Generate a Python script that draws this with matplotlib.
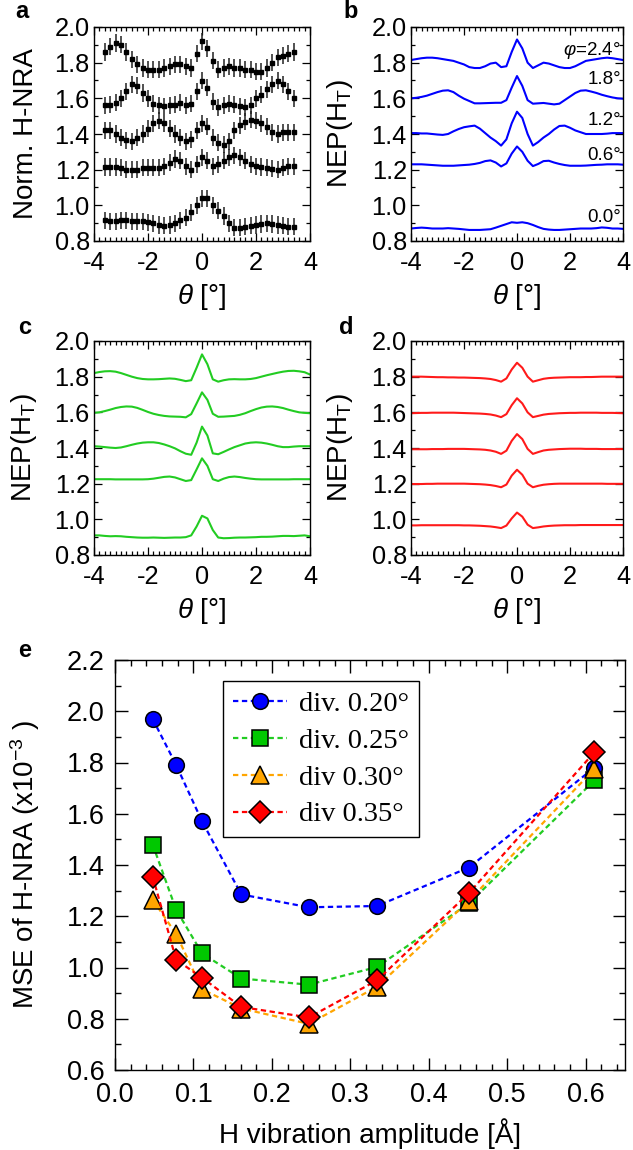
import numpy as np
import matplotlib
matplotlib.use("Agg")
import matplotlib.pyplot as plt
from matplotlib.ticker import MultipleLocator, FormatStrFormatter

plt.rcParams['font.family'] = ['Liberation Sans', 'DejaVu Sans']
plt.rcParams['mathtext.fontset'] = 'custom'
plt.rcParams['mathtext.rm'] = 'Liberation Sans'
plt.rcParams['mathtext.it'] = 'Liberation Sans:italic'
plt.rcParams['axes.unicode_minus'] = False

# ---------------- data ----------------
# panel a: measured (x = -3.6 ... 3.4 step 0.2)
theta_exp = np.round(np.arange(-3.6, 3.41, 0.2), 2)
a_phi24 = [1.86, 1.89, 1.91, 1.90, 1.86, 1.82, 1.79, 1.77, 1.76, 1.76,
           1.76, 1.77, 1.78, 1.79, 1.79, 1.78, 1.77, 1.85, 1.92, 1.88,
           1.81, 1.76, 1.77, 1.78, 1.77, 1.77, 1.76, 1.76, 1.75, 1.75,
           1.77, 1.80, 1.83, 1.84, 1.85, 1.86]
a_phi18 = [1.56, 1.565, 1.575, 1.60, 1.64, 1.68, 1.67, 1.63, 1.60, 1.57,
           1.56, 1.555, 1.56, 1.565, 1.575, 1.56, 1.57, 1.64, 1.70, 1.66,
           1.58, 1.55, 1.56, 1.57, 1.565, 1.555, 1.55, 1.56, 1.60, 1.62,
           1.65, 1.68, 1.70, 1.68, 1.64, 1.60]
a_phi12 = [1.42, 1.42, 1.40, 1.38, 1.365, 1.36, 1.38, 1.40, 1.43, 1.46,
           1.475, 1.46, 1.43, 1.40, 1.38, 1.36, 1.37, 1.42, 1.46, 1.44,
           1.38, 1.35, 1.34, 1.36, 1.42, 1.45, 1.47, 1.48, 1.475, 1.46,
           1.44, 1.41, 1.40, 1.41, 1.41, 1.41]
a_phi06 = [1.215, 1.215, 1.215, 1.21, 1.20, 1.20, 1.20, 1.21, 1.21, 1.21,
           1.21, 1.22, 1.24, 1.26, 1.25, 1.22, 1.20, 1.23, 1.27, 1.25,
           1.22, 1.23, 1.25, 1.27, 1.28, 1.27, 1.25, 1.23, 1.22, 1.215,
           1.21, 1.205, 1.20, 1.21, 1.22, 1.22]
a_phi00 = [0.915, 0.91, 0.91, 0.915, 0.915, 0.91, 0.91, 0.91, 0.905, 0.90,
           0.89, 0.885, 0.89, 0.90, 0.915, 0.93, 0.96, 1.00, 1.04, 1.04,
           1.00, 0.97, 0.94, 0.90, 0.875, 0.875, 0.88, 0.885, 0.89, 0.895,
           0.90, 0.895, 0.89, 0.885, 0.88, 0.88]
a_err = 0.048

# panels b, c, d: simulations (x = -4 ... 4 step 0.2)
theta_sim = np.round(np.arange(-4.0, 4.01, 0.2), 2)
b_phi24 = [1.815, 1.82, 1.825, 1.828, 1.828, 1.825, 1.82, 1.815, 1.81, 1.80,
           1.79, 1.775, 1.77, 1.77, 1.78, 1.795, 1.80, 1.775, 1.78, 1.86,
           1.93, 1.88, 1.80, 1.77, 1.785, 1.80, 1.795, 1.785, 1.775, 1.77,
           1.77, 1.78, 1.795, 1.81, 1.815, 1.82, 1.825, 1.828, 1.825, 1.82, 1.815]
b_phi18 = [1.60, 1.603, 1.608, 1.615, 1.625, 1.635, 1.643, 1.645, 1.635, 1.615,
           1.598, 1.585, 1.572, 1.572, 1.573, 1.574, 1.575, 1.575, 1.59, 1.66,
           1.725, 1.67, 1.59, 1.57, 1.572, 1.574, 1.57, 1.566, 1.57, 1.59,
           1.61, 1.63, 1.643, 1.645, 1.638, 1.63, 1.62, 1.612, 1.605, 1.60, 1.598]
b_phi12 = [1.405, 1.405, 1.403, 1.403, 1.40, 1.397, 1.395, 1.40, 1.415, 1.428,
           1.438, 1.443, 1.447, 1.43, 1.405, 1.38, 1.36, 1.335, 1.37, 1.46,
           1.525, 1.49, 1.40, 1.335, 1.355, 1.38, 1.40, 1.425, 1.445, 1.447,
           1.435, 1.42, 1.41, 1.40, 1.40, 1.40, 1.40, 1.402, 1.405, 1.405, 1.405]
b_phi06 = [1.23, 1.23, 1.23, 1.228, 1.226, 1.224, 1.222, 1.222, 1.222, 1.224,
           1.226, 1.228, 1.232, 1.238, 1.248, 1.252, 1.24, 1.218, 1.235, 1.29,
           1.33, 1.30, 1.25, 1.22, 1.232, 1.248, 1.25, 1.24, 1.232, 1.226,
           1.222, 1.222, 1.222, 1.223, 1.225, 1.227, 1.228, 1.23, 1.23, 1.23, 1.228]
b_phi00 = [0.87, 0.873, 0.875, 0.873, 0.87, 0.87, 0.87, 0.872, 0.87, 0.868,
           0.865, 0.862, 0.862, 0.862, 0.864, 0.866, 0.875, 0.885, 0.895, 0.905,
           0.902, 0.905, 0.90, 0.89, 0.878, 0.868, 0.864, 0.862, 0.862, 0.864,
           0.866, 0.868, 0.87, 0.87, 0.87, 0.872, 0.876, 0.874, 0.87, 0.87, 0.868]

c_phi24 = [1.82, 1.826, 1.83, 1.831, 1.828, 1.82, 1.81, 1.80, 1.792, 1.787,
           1.785, 1.785, 1.786, 1.788, 1.79, 1.788, 1.782, 1.775, 1.78, 1.85,
           1.925, 1.87, 1.785, 1.772, 1.78, 1.785, 1.786, 1.785, 1.785, 1.787,
           1.792, 1.80, 1.808, 1.815, 1.822, 1.828, 1.832, 1.833, 1.83, 1.825, 1.812]
c_phi18 = [1.597, 1.60, 1.607, 1.615, 1.624, 1.63, 1.633, 1.632, 1.625, 1.614,
           1.602, 1.592, 1.585, 1.58, 1.577, 1.576, 1.575, 1.572, 1.59, 1.65,
           1.712, 1.67, 1.592, 1.575, 1.576, 1.578, 1.58, 1.586, 1.595, 1.607,
           1.618, 1.627, 1.632, 1.633, 1.63, 1.624, 1.615, 1.607, 1.60, 1.597, 1.595]
c_phi12 = [1.41, 1.408, 1.405, 1.402, 1.40, 1.403, 1.41, 1.418, 1.425, 1.43,
           1.432, 1.432, 1.428, 1.42, 1.41, 1.398, 1.382, 1.368, 1.362, 1.43,
           1.52, 1.47, 1.37, 1.365, 1.378, 1.392, 1.405, 1.415, 1.425, 1.43,
           1.432, 1.43, 1.425, 1.418, 1.41, 1.405, 1.405, 1.408, 1.41, 1.41, 1.41]
c_phi06 = [1.225, 1.225, 1.225, 1.225, 1.224, 1.224, 1.224, 1.224, 1.224, 1.224,
           1.225, 1.228, 1.233, 1.238, 1.24, 1.235, 1.225, 1.215, 1.22, 1.28,
           1.342, 1.30, 1.225, 1.215, 1.228, 1.237, 1.24, 1.237, 1.232, 1.228,
           1.225, 1.224, 1.224, 1.224, 1.224, 1.224, 1.224, 1.225, 1.225, 1.225, 1.225]
c_phi00 = [0.91, 0.91, 0.907, 0.905, 0.906, 0.905, 0.902, 0.90, 0.898, 0.897,
           0.897, 0.898, 0.897, 0.896, 0.897, 0.898, 0.898, 0.90, 0.91, 0.96,
           1.02, 1.005, 0.94, 0.898, 0.894, 0.895, 0.897, 0.898, 0.898, 0.899,
           0.90, 0.902, 0.902, 0.903, 0.905, 0.907, 0.907, 0.906, 0.908, 0.91, 0.905]

d_phi24 = [1.80, 1.80, 1.80, 1.799, 1.798, 1.797, 1.797, 1.796, 1.796, 1.795,
           1.795, 1.794, 1.793, 1.792, 1.79, 1.787, 1.781, 1.772, 1.79, 1.84,
           1.878, 1.85, 1.80, 1.772, 1.78, 1.788, 1.792, 1.794, 1.795, 1.796,
           1.797, 1.797, 1.797, 1.798, 1.798, 1.799, 1.80, 1.80, 1.80, 1.80, 1.80]
d_phi18 = [1.595, 1.596, 1.597, 1.597, 1.598, 1.598, 1.598, 1.598, 1.598, 1.597,
           1.596, 1.595, 1.594, 1.593, 1.591, 1.588, 1.582, 1.573, 1.59, 1.64,
           1.679, 1.65, 1.60, 1.573, 1.58, 1.587, 1.591, 1.593, 1.595, 1.596,
           1.597, 1.597, 1.598, 1.598, 1.598, 1.598, 1.597, 1.597, 1.597, 1.596, 1.595]
d_phi12 = [1.393, 1.393, 1.393, 1.393, 1.394, 1.394, 1.394, 1.395, 1.395, 1.395,
           1.395, 1.394, 1.393, 1.392, 1.39, 1.386, 1.379, 1.367, 1.385, 1.44,
           1.478, 1.45, 1.395, 1.367, 1.377, 1.386, 1.39, 1.392, 1.394, 1.395,
           1.396, 1.396, 1.396, 1.395, 1.395, 1.395, 1.394, 1.394, 1.394, 1.394, 1.394]
d_phi06 = [1.198, 1.198, 1.198, 1.199, 1.199, 1.20, 1.20, 1.20, 1.20, 1.20,
           1.20, 1.199, 1.198, 1.197, 1.195, 1.192, 1.187, 1.18, 1.195, 1.245,
           1.278, 1.25, 1.20, 1.18, 1.188, 1.194, 1.197, 1.199, 1.20, 1.20,
           1.20, 1.20, 1.20, 1.20, 1.20, 1.20, 1.20, 1.199, 1.199, 1.199, 1.199]
d_phi00 = [0.966, 0.966, 0.967, 0.967, 0.967, 0.967, 0.967, 0.967, 0.967, 0.967,
           0.966, 0.966, 0.965, 0.964, 0.962, 0.96, 0.956, 0.951, 0.965, 1.005,
           1.038, 1.015, 0.97, 0.951, 0.955, 0.96, 0.963, 0.965, 0.966, 0.967,
           0.967, 0.967, 0.968, 0.968, 0.968, 0.968, 0.968, 0.968, 0.968, 0.968, 0.968]

phi_labels = [r'$\varphi$=2.4°', '1.8°', '1.2°', '0.6°', '0.0°']
phi_label_y = [1.871, 1.708, 1.478, 1.282, 0.929]

# panel e
amp = [0.048, 0.078, 0.111, 0.161, 0.247, 0.334, 0.451, 0.611]
mse_div020 = [1.97, 1.79, 1.57, 1.285, 1.235, 1.24, 1.39, 1.78]
mse_div025 = [1.48, 1.225, 1.055, 0.957, 0.933, 1.002, 1.25, 1.73]
mse_div030 = [1.265, 1.13, 0.915, 0.84, 0.78, 0.925, 1.26, 1.775]
mse_div035 = [1.355, 1.03, 0.96, 0.846, 0.805, 0.95, 1.29, 1.84]
legend_labels = ['div. 0.20°', 'div. 0.25°', 'div 0.30°', 'div 0.35°']

# ---------------- figure ----------------
W, H = 633, 1150
fig = plt.figure(figsize=(W / 100, H / 100), dpi=100)


def rect(l, t, r, b):
    return [l / W, 1 - b / H, (r - l) / W, (b - t) / H]


ax_a = fig.add_axes(rect(94, 27, 310, 241))
ax_b = fig.add_axes(rect(411, 27, 623, 241))
ax_c = fig.add_axes(rect(94, 341, 310, 555))
ax_d = fig.add_axes(rect(411, 341, 623, 555))
ax_e = fig.add_axes(rect(115, 660, 625, 1070))

TICK = 18.3
LAB = 20
theta_lab = r'$\theta$ [°]'

for ax in (ax_a, ax_b, ax_c, ax_d):
    ax.set_xlim(-4, 4)
    ax.set_ylim(0.8, 2.0)
    ax.xaxis.set_major_locator(MultipleLocator(2))
    ax.xaxis.set_minor_locator(MultipleLocator(0.2))
    ax.yaxis.set_major_locator(MultipleLocator(0.2))
    ax.yaxis.set_minor_locator(MultipleLocator(0.1))
    ax.yaxis.set_major_formatter(FormatStrFormatter('%.1f'))
    ax.tick_params(which='both', direction='in', top=True, right=True,
                   labelsize=TICK, width=0.9)
    ax.tick_params(which='major', length=5.5)
    ax.tick_params(which='minor', length=3)
    ax.tick_params(axis='x', which='both', pad=7.5)
    ax.tick_params(axis='y', which='both', pad=3)
    for s in ax.spines.values():
        s.set_linewidth(1.0)
    ax.set_xlabel(theta_lab, fontsize=LAB)
    ax.xaxis.label.set_va('center')
    ax.xaxis.set_label_coords(0.5, -0.262)

# panel a
for ys in (a_phi24, a_phi18, a_phi12, a_phi06, a_phi00):
    ax_a.errorbar(theta_exp, ys, yerr=a_err, fmt='s', ms=3.4, color='black',
                  ecolor='#222222', elinewidth=1.1, capsize=0, ls='none')
ax_a.set_ylabel('Norm. H-NRA', fontsize=LAB, va='center')
ax_a.yaxis.set_label_coords(-0.315, 0.5)

# panel b
for ys in (b_phi24, b_phi18, b_phi12, b_phi06, b_phi00):
    ax_b.plot(theta_sim, ys, color='#0000FF', lw=1.5)
for lab, yy in zip(phi_labels, phi_label_y):
    ax_b.text(3.92, yy, lab, ha='right', va='center', fontsize=13.5)
ax_b.set_ylabel(r'NEP(H$_\mathrm{T}$)', fontsize=LAB, va='center')
ax_b.yaxis.set_label_coords(-0.337, 0.5)

# panel c
for ys in (c_phi24, c_phi18, c_phi12, c_phi06, c_phi00):
    ax_c.plot(theta_sim, ys, color='#22CC22', lw=1.5)
ax_c.set_ylabel(r'NEP(H$_\mathrm{T}$)', fontsize=LAB, va='center')
ax_c.yaxis.set_label_coords(-0.322, 0.5)

# panel d
for ys in (d_phi24, d_phi18, d_phi12, d_phi06, d_phi00):
    ax_d.plot(theta_sim, ys, color='#FF1A1A', lw=1.5)
ax_d.set_ylabel(r'NEP(H$_\mathrm{T}$)', fontsize=LAB, va='center')
ax_d.yaxis.set_label_coords(-0.333, 0.5)

# panel e
styles = [
    (mse_div020, '#0000FF', '#0000FF', 'o', 11.3),
    (mse_div025, '#22CC22', '#00C800', 's', 11.5),
    (mse_div030, '#FFA500', '#FFA500', '^', 13.5),
    (mse_div035, '#FF0000', '#FF0000', 'D', 10.8),
]
for (ys, lc, fc, mk, ms), lab in zip(styles, legend_labels):
    ax_e.plot(amp, ys, ls='--', dashes=(2.4, 1.6), lw=1.6, color=lc,
              marker=mk, ms=ms, mfc=fc, mec='black', mew=1.1, label=lab)
ax_e.set_xlim(0, 0.65)
ax_e.set_ylim(0.6, 2.2)
ax_e.xaxis.set_major_locator(MultipleLocator(0.1))
ax_e.xaxis.set_minor_locator(MultipleLocator(0.02))
ax_e.yaxis.set_major_locator(MultipleLocator(0.2))
ax_e.yaxis.set_minor_locator(MultipleLocator(0.1))
ax_e.xaxis.set_major_formatter(FormatStrFormatter('%.1f'))
ax_e.yaxis.set_major_formatter(FormatStrFormatter('%.1f'))
ax_e.tick_params(which='both', direction='in', top=True, right=True,
                 labelsize=19.5, width=1.0)
ax_e.tick_params(which='major', length=9)
ax_e.tick_params(which='minor', length=4.5)
ax_e.tick_params(axis='x', which='both', pad=9)
ax_e.tick_params(axis='y', which='both', pad=7.5)
for s in ax_e.spines.values():
    s.set_linewidth(1.0)
ax_e.set_xlabel('H vibration amplitude [Å]', fontsize=LAB, va='center')
ax_e.xaxis.set_label_coords(0.5, -0.154)
ax_e.set_ylabel(r'MSE of H-NRA (x10$^{-3}$ )', fontsize=LAB, va='center')
ax_e.yaxis.set_label_coords(-0.176, 0.5)
leg = ax_e.legend(loc='upper left', bbox_to_anchor=(0.212, 0.948),
                  borderaxespad=0, prop={'family': 'Liberation Serif', 'size': 20.5},
                  fancybox=False, edgecolor='black', framealpha=1,
                  handlelength=1.9, handletextpad=0.4, borderpad=0.35,
                  labelspacing=0.38, numpoints=1)
leg.get_frame().set_linewidth(1.0)

# panel letters
for letter, x, y in (('a', 22, 0), ('b', 351, 0), ('c', 25, 316),
                     ('d', 346, 316), ('e', 25, 639)):
    fig.text(x / W, 1 - y / H, letter, fontsize=17, fontweight='bold',
             ha='center', va='top')

fig.savefig('out.png', dpi=100)
